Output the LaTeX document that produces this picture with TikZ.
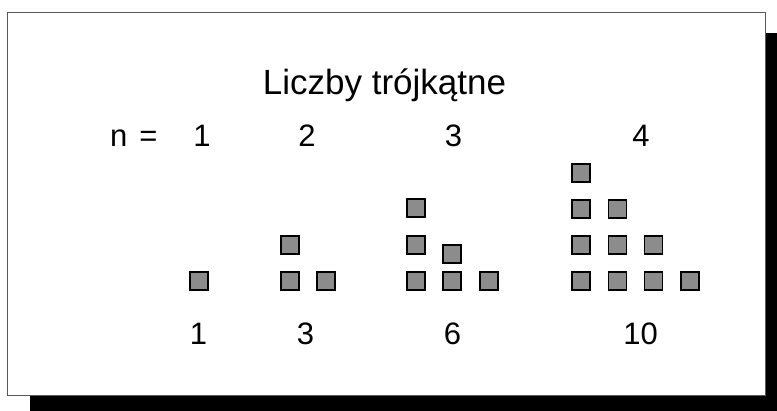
\documentclass[tikz,border=0pt]{standalone}
\usepackage{fontspec}
\setmainfont{Liberation Sans}
\usetikzlibrary{positioning}
\definecolor{PebbleFill}{HTML}{8C8C8C}
\definecolor{FrameLine}{HTML}{595959}
\tikzset{
  titlenode/.style={inner sep=0pt, anchor=base, font=\fontsize{35}{42}\selectfont},
  numnode/.style={inner sep=0pt, anchor=base, font=\fontsize{31}{37}\selectfont},
  pebble/.style={draw=black, fill=PebbleFill, line width=1.2pt, rectangle,
                 minimum size=18pt, inner sep=0pt}
}
\begin{document}
\begin{tikzpicture}[x=1pt, y=-1pt]
  \useasboundingbox (0,0) rectangle (777,411);
  % frame with shadow
  \fill[black] (30,33) rectangle (777,411);
  \draw[FrameLine, fill=white, line width=0.8pt] (7.5,12.5) rectangle (765,395);

  \node[titlenode] (title) at (384.5,95) {Liczby trójkątne};
  \node[numnode, anchor=base west] (nlabel) at (110,147) {n\hspace{12pt}=};
  \node[numnode] (n1) at (202,147) {1};
  \node[numnode] (n2) at (307,147) {2};
  \node[numnode] (n3) at (453.5,147) {3};
  \node[numnode] (n4) at (641,147) {4};

  % pebbles
  \node[pebble] (p1) at (199,281) {};

  \node[pebble] (p2a) at (290,281) {};
  \node[pebble] (p2b) at (326,281) {};
  \node[pebble] (p2c) at (290,245) {};

  \foreach \x [count=\i] in {416,452,489}
    \node[pebble] (p3-\i) at (\x,281) {};
  \node[pebble] (p3-4) at (416,245) {};
  \node[pebble] (p3-5) at (416,208) {};
  \node[pebble] (p3-6) at (452,254) {};

  \foreach \y/\k [count=\r] in {281/4,245/3,209/2,173/1}
    \foreach \c in {1,...,\k}
      \node[pebble] (p4-\r-\c) at ({581+36.3*(\c-1)},\y) {};

  \node[numnode] (t1) at (198.5,345) {1};
  \node[numnode] (t2) at (305.5,345) {3};
  \node[numnode] (t3) at (452.5,345) {6};
  \node[numnode] (t4) at (640.5,345) {10};
\end{tikzpicture}
\end{document}
